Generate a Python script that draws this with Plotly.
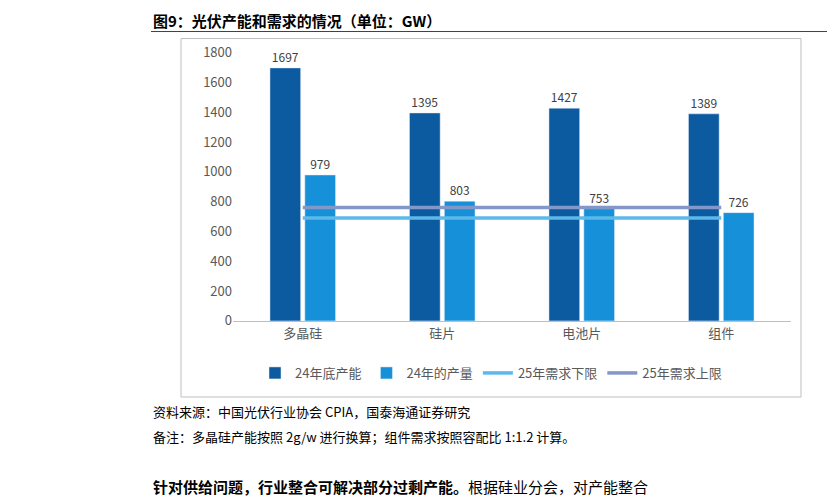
import plotly.graph_objects as go

categories = ["多晶硅", "硅片", "电池片", "组件"]
capacity_24 = [1697, 1395, 1427, 1389]
output_24 = [979, 803, 753, 726]
demand_low_25 = [690, 690, 690, 690]
demand_high_25 = [760, 760, 760, 760]

W, H = 835, 504
font = "Noto Sans CJK SC"


# correct for the offset seen in the rendered page
def px(x):
    return (x - 7) / W


def py(y):
    return 1 - (y - 17.5) / 0.961 / H


fig = go.Figure()
fig.add_bar(x=categories, y=capacity_24, name="24年底产能", marker_color="#0c5aa0",
            text=capacity_24, textposition="outside", textfont=dict(size=12, color="#404040"))
fig.add_bar(x=categories, y=output_24, name="24年的产量", marker_color="#1690d8",
            text=output_24, textposition="outside", textfont=dict(size=12, color="#404040"))
fig.add_scatter(x=categories, y=demand_low_25, name="25年需求下限", mode="lines",
                line=dict(color="#5cb9ea", width=3.5))
fig.add_scatter(x=categories, y=demand_high_25, name="25年需求上限", mode="lines",
                line=dict(color="#8497c9", width=3.5))

fig.update_layout(
    width=W, height=H, margin=dict(l=0, r=0, t=0, b=0),
    plot_bgcolor="white", paper_bgcolor="white",
    font=dict(family=font, size=12, color="#595959"),
    barmode="group", bargap=0.5, bargroupgap=0.12,
    xaxis=dict(domain=[px(232), px(790)], showline=True, linecolor="#bfbfbf",
               ticks="", tickfont=dict(size=13)),
    yaxis=dict(domain=[py(320), py(52)], range=[0, 1800], dtick=200,
               showgrid=False, zeroline=False, tickfont=dict(size=13)),
    legend=dict(orientation="h", x=px(490), xanchor="center", y=py(372), yanchor="middle",
                font=dict(size=13), traceorder="normal"),
    showlegend=True,
)

# chart frame and title rule
fig.add_shape(type="rect", xref="paper", yref="paper", x0=px(180), x1=px(800),
              y0=py(396), y1=py(38), line=dict(color="#bfbfbf", width=1))
fig.add_shape(type="line", xref="paper", yref="paper", x0=px(150), x1=px(835),
              y0=py(31), y1=py(31), line=dict(color="#404040", width=1))


def note(text, y, size=14, color="#000000"):
    fig.add_annotation(text=text, xref="paper", yref="paper", x=px(150), y=min(py(y), 1.0),
                       xanchor="left", yanchor="middle", showarrow=False,
                       font=dict(family=font, size=size, color=color))


note("<b>图9：光伏产能和需求的情况（单位：GW）</b>", 20, 15)
note("资料来源：中国光伏行业协会 CPIA，国泰海通证券研究", 410, 13)
note("备注：多晶硅产能按照 2g/w 进行换算；组件需求按照容配比 1:1.2 计算。", 435, 13)
note("<b>针对供给问题，行业整合可解决部分过剩产能。</b>根据硅业分会，对产能整合", 485, 15)

fig.write_html("out.html")
